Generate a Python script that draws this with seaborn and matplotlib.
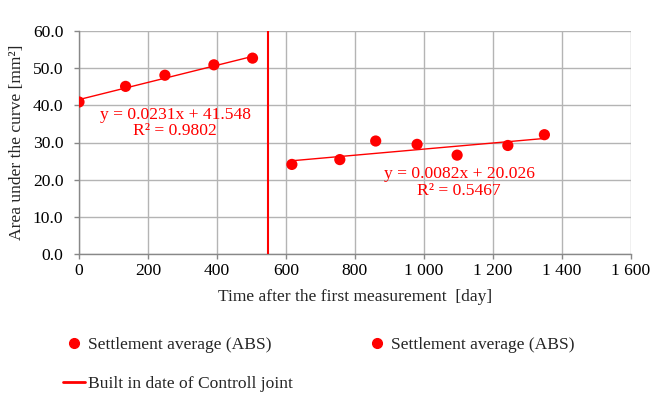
import matplotlib
matplotlib.use("Agg")
import matplotlib.pyplot as plt
import matplotlib.ticker as mticker
from matplotlib.lines import Line2D
import seaborn as sns
import numpy as np
import pandas as pd

# Data
days_before = [0, 135, 249, 391, 503]
area_before = [40.9, 45.1, 48.1, 50.9, 52.7]
days_after = [617, 756, 860, 980, 1096, 1243, 1349]
area_after = [24.1, 25.4, 30.4, 29.5, 26.6, 29.2, 32.1]
joint_day = 548
trend_before = (0.0231, 41.548)   # slope, intercept
trend_after = (0.0082, 20.026)
label_eq_before = "y = 0.0231x + 41.548\nR² = 0.9802"
label_eq_after = "y = 0.0082x + 20.026\nR² = 0.5467"
x_ticks = [0, 200, 400, 600, 800, 1000, 1200, 1400, 1600]
y_ticks = [0, 10, 20, 30, 40, 50, 60]

sns.set_theme(style="white")
plt.rcParams["font.family"] = ["Liberation Serif", "DejaVu Serif"]

FS = 12.6
fig = plt.figure(figsize=(6.6, 3.98), dpi=100)
ax = fig.add_axes([79/660, 1-254/398, (631-79)/660, (254-31)/398])

red = "#ff0000"
df1 = pd.DataFrame({"day": days_before, "area": area_before})
df2 = pd.DataFrame({"day": days_after, "area": area_after})

# trendlines
tx1 = np.array([min(days_before), max(days_before)])
tx2 = np.array([min(days_after), max(days_after)])
t1 = pd.DataFrame({"day": tx1, "area": trend_before[0]*tx1 + trend_before[1]})
t2 = pd.DataFrame({"day": tx2, "area": trend_after[0]*tx2 + trend_after[1]})
sns.lineplot(data=t1, x="day", y="area", ax=ax, color=red, lw=1.0, zorder=3)
sns.lineplot(data=t2, x="day", y="area", ax=ax, color=red, lw=1.0, zorder=3)

sns.scatterplot(data=df1, x="day", y="area", ax=ax, color=red, s=65,
                edgecolor="none", zorder=4)
sns.scatterplot(data=df2, x="day", y="area", ax=ax, color=red, s=65,
                edgecolor="none", zorder=4)

ax.axvline(joint_day, color=red, lw=1.5, zorder=3)

ax.text(279, 35.2, label_eq_before, color=red, fontsize=FS,
        ha="center", va="center", linespacing=1.05, multialignment="center")
ax.text(1102, 19.2, label_eq_after, color=red, fontsize=FS,
        ha="center", va="center", linespacing=1.05, multialignment="center")

ax.set_xlim(0, 1600)
ax.set_ylim(0, 60)
ax.set_xticks(x_ticks)
ax.set_yticks(y_ticks)
ax.xaxis.set_major_formatter(mticker.FuncFormatter(
    lambda v, p: f"{int(v):,}".replace(",", " ")))
ax.yaxis.set_major_formatter(mticker.FuncFormatter(lambda v, p: f"{v:.1f}"))
ax.grid(True, color="#b4b4b4", lw=1.0)
ax.set_axisbelow(True)
for s in ["top", "right"]:
    ax.spines[s].set_visible(False)
for s in ["left", "bottom"]:
    ax.spines[s].set_color("#888888")
    ax.spines[s].set_linewidth(1.0)
ax.tick_params(axis="both", labelsize=FS, colors="black", length=3.6,
               color="#888888", direction="out", width=1,
               bottom=True, left=True)
ax.tick_params(axis="y", pad=7.5)
ax.tick_params(axis="x", pad=3)
ax.set_xlabel("Time after the first measurement  [day]", fontsize=FS, labelpad=7)
ax.set_ylabel("Area under the curve [mm²]", fontsize=FS, labelpad=5.5)

h1 = Line2D([], [], marker="o", color=red, ls="none", markersize=7)
h2 = Line2D([], [], color=red, lw=2)
h3 = Line2D([], [], marker="o", color=red, ls="none", markersize=7)
fig.legend([h1, h2, h3],
           ["Settlement average (ABS)", "Built in date of Controll joint",
            "Settlement average (ABS)"],
           ncol=2, loc="upper left", bbox_to_anchor=(63/660, 1-337/398),
           frameon=False, fontsize=FS, handlelength=1.26, handletextpad=0.17,
           columnspacing=4.17, labelspacing=1.27, borderaxespad=0, borderpad=0)

fig.savefig("out.png", dpi=100)
